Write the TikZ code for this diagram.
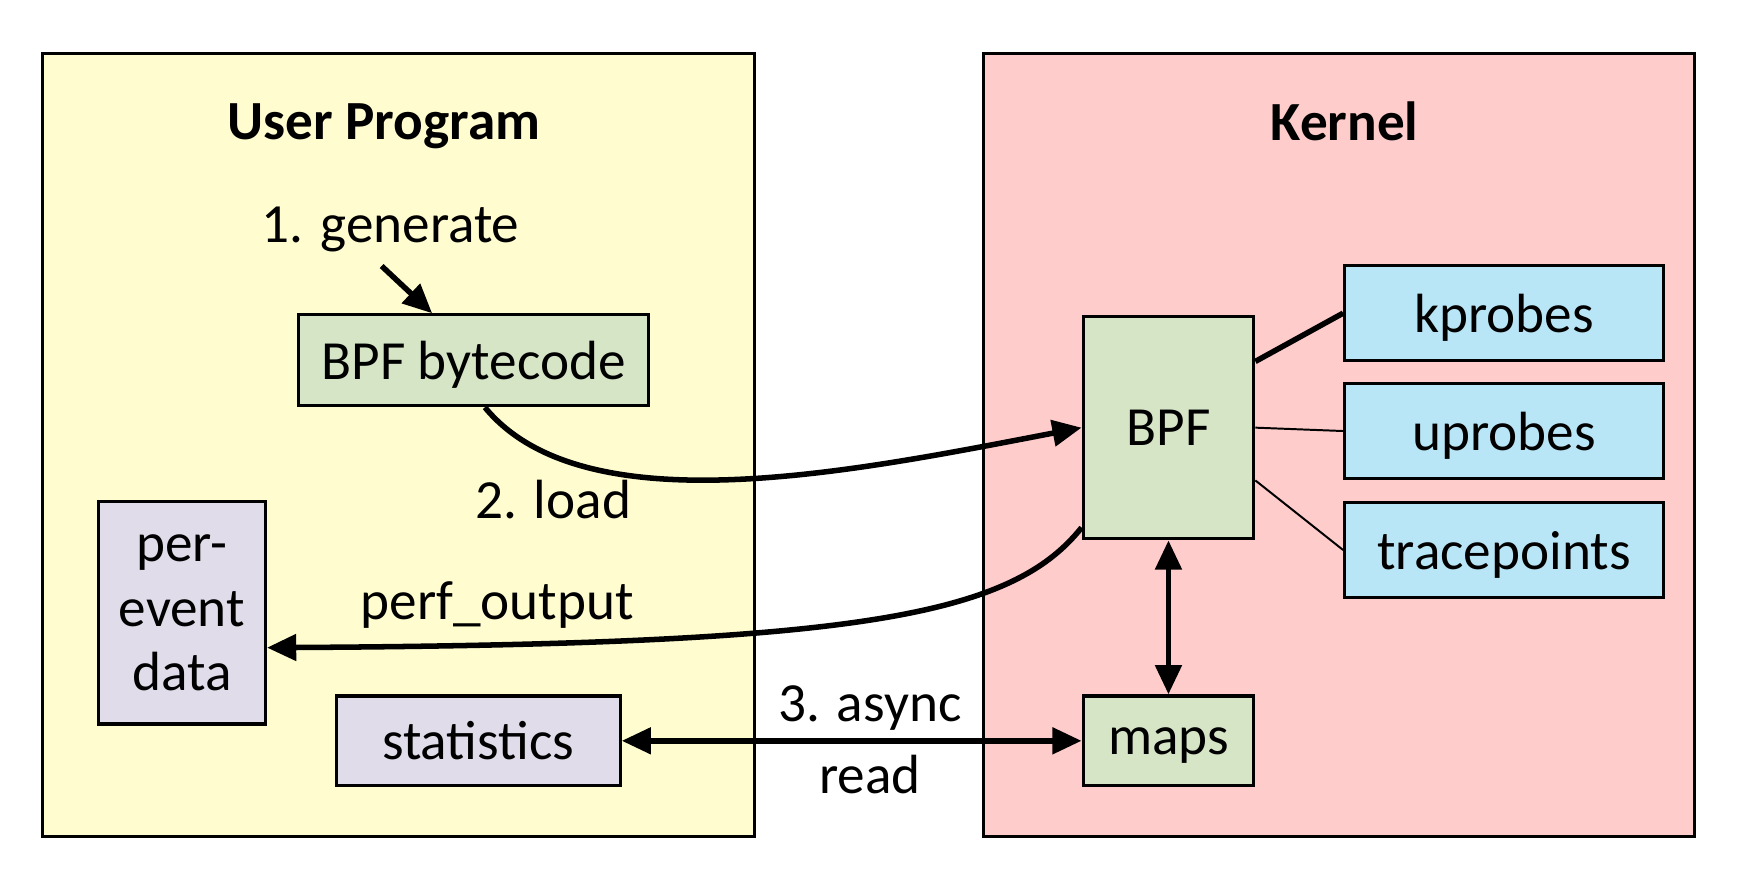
\documentclass[tikz,border=0pt]{standalone}
\usepackage{fontspec}
\setmainfont{Carlito}
\usepackage{xcolor}
\usepackage{tikz}
\usetikzlibrary{arrows.meta, positioning}
\definecolor{userbg}{HTML}{FFFDD0}
\definecolor{kernelbg}{HTML}{FFCCCC}
\definecolor{bpfgreen}{HTML}{D5E5C6}
\definecolor{probeblue}{HTML}{B9E6F7}
\definecolor{datalilac}{HTML}{E0DCEA}
\tikzstyle{area} = [draw = black, line width = 0.8pt]
\tikzstyle{box} = [rectangle, draw = black, line width = 0.8pt, inner sep = 0pt, align = center]
\tikzstyle{green box} = [box, fill = bpfgreen]
\tikzstyle{blue box} = [box, fill = probeblue]
\tikzstyle{lilac box} = [box, fill = datalilac]
\tikzstyle{post} = [->, line width = 1.4pt]
\tikzstyle{both} = [<->, line width = 1.4pt]
\tikzstyle{link} = [line width = 1.4pt]
\tikzstyle{thin link} = [line width = 0.5pt]
\tikzstyle{title} = [font = \fontsize{14}{16}\selectfont\bfseries]

\begin{document}
\begin{tikzpicture}[x = 0.1mm, y = -0.1mm, >= {Triangle[length = 2.6mm, width = 2.3mm]},
        every node/.style = {font = \fontsize{14}{16.3}\selectfont, text depth = 0pt}]
        \useasboundingbox (0,0) rectangle (1568,790);
        % draw the two areas
        \filldraw[area, fill = userbg] (38,48) rectangle (672,745);
        \filldraw[area, fill = kernelbg] (876,48) rectangle (1510,745);
        \node[title] (user) at (342,108) {User Program};
        \node[title] (kernel) at (1198,108) {Kernel};

        % draw nodes of the user program
        \node[green box, minimum width = 31.2mm, minimum height = 8.1mm] (bytecode) at (422,321) {BPF bytecode};
        \node[lilac box, minimum width = 14.9mm, minimum height = 19.8mm] (perevent) at (162,546) {per-\\event\\data};
        \node[lilac box, minimum width = 25.3mm, minimum height = 8mm] (stats) at (426,660) {statistics};

        % draw nodes of the kernel
        \node[green box, minimum width = 15.2mm, minimum height = 19.8mm] (bpf) at (1041,381) {BPF};
        \node[green box, minimum width = 15.2mm, minimum height = 8mm] (maps) at (1041,660) {maps};
        \node[blue box, minimum width = 28.4mm, minimum height = 8.5mm] (kprobes) at (1340,279) {kprobes};
        \node[blue box, minimum width = 28.4mm, minimum height = 8.5mm] (uprobes) at (1340,384) {uprobes};
        \node[blue box, minimum width = 28.4mm, minimum height = 8.4mm] (tracepoints) at (1340,490) {tracepoints};

        % draw labels on arrows
        \node (gentext) at (348,200) {1. generate};
        \node (loadtext) at (493,445) {2. load};
        \node (perftext) at (443,535) {perf\_output};
        \node (asynctext) at (775,627) {3. async};
        \node (readtext) at (775,690) {read};
        \coordinate (genstart) at (340,237);

        % draw arrows
        \draw[post] (genstart) -- ([xshift = -3.7mm]bytecode.north);
        \draw[post] ([xshift = 1mm]bytecode.south) .. controls (520,470) and (760,420) .. (bpf.west);
        \draw[post] ([yshift = -8.9mm]bpf.west) .. controls (900,550) and (760,574) .. ([yshift = -3.1mm]perevent.east);
        \draw[both] (stats) -- (maps);
        \draw[both] (bpf) -- (maps);

        % draw links to the probes
        \draw[link] ([yshift = 5.9mm]bpf.east) -- (kprobes.west);
        \draw[thin link] (bpf.east) -- (uprobes.west);
        \draw[thin link] ([yshift = -4.7mm]bpf.east) -- (tracepoints.west);
    \end{tikzpicture}
\end{document}
